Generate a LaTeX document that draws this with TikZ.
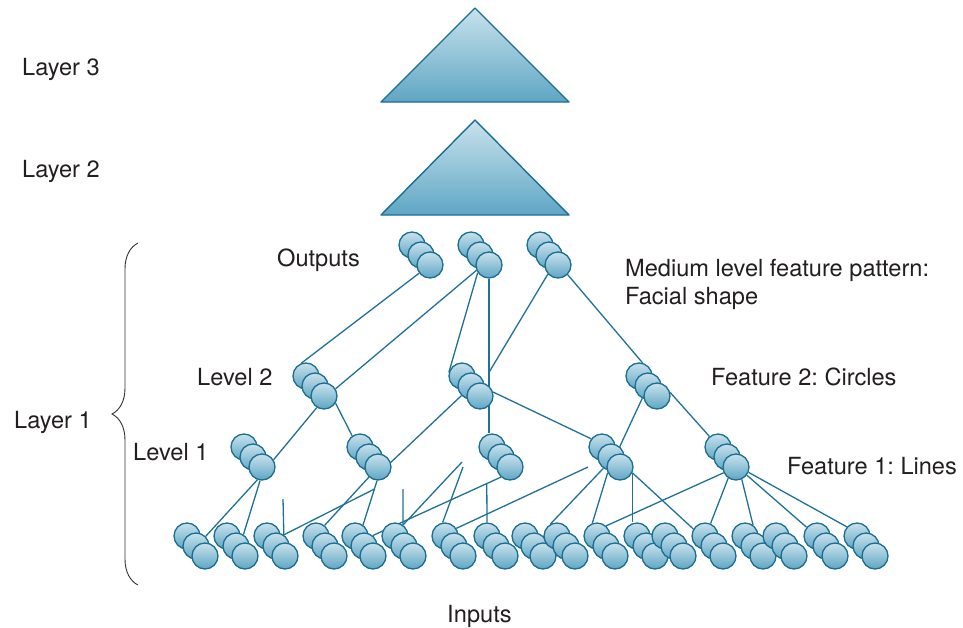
\documentclass[tikz,border=0pt]{standalone}
\usepackage{fontspec}
\setmainfont{TeX Gyre Heros}
\usetikzlibrary{backgrounds,decorations.pathreplacing}
\frenchspacing

\definecolor{celltop}{HTML}{C8E2EC}
\definecolor{cellbot}{HTML}{5FA6C4}
\definecolor{cellline}{HTML}{1B6E93}
\definecolor{linkcol}{HTML}{1F7197}
\definecolor{textcol}{HTML}{231F20}

\tikzset{
  cell/.style={circle, minimum size=26pt, inner sep=0pt, draw=cellline, line width=1.3pt,
    top color=celltop, bottom color=cellbot},
  tri/.style={draw=cellline, line width=1.4pt, line join=round, top color=celltop, bottom color=cellbot},
  link/.style={draw=linkcol, line width=1.3pt},
  lbl/.style={anchor=base west, inner sep=0pt, text=textcol, font=\fontsize{23.6}{28}\selectfont},
}

\begin{document}
\begin{tikzpicture}[x=1pt,y=-1pt]
    \useasboundingbox (0,0) rectangle (963,627);

    % Layers 3 and 2
    \draw[tri] (475,8) -- (569,102) -- (381,102) -- cycle;
    \draw[tri] (475,120) -- (569,215) -- (381,215) -- cycle;

    % Labels
    \node[lbl] (lay3) at (22,75) {Layer 3};
    \node[lbl] (lay2) at (22,177) {Layer 2};
    \node[lbl] (lay1) at (14,428) {Layer 1};
    \node[lbl] (outs) at (277,266) {Outputs};
    \node[lbl] (med1) at (625,276) {Medium level feature pattern:};
    \node[lbl] (med2) at (625,304) {Facial shape};
    \node[lbl] (lev2) at (197,385) {Level 2};
    \node[lbl] (feat2) at (711,385) {Feature 2: Circles};
    \node[lbl] (lev1) at (133,460) {Level 1};
    \node[lbl] (feat1) at (787,474) {Feature 1: Lines};
    \node[lbl] (ins) at (447,622) {Inputs};

    % Brace for layer 1
    \draw[decorate, decoration={brace, amplitude=26pt}, line width=0.9pt, black!80] (138,585) -- (138,243);

    % Outputs, level 2 and level 1 clusters
    \foreach \n/\x/\y in {o1/412/245, o2/471/245, o3/540/245,
        l2a/306/376, l2b/462/376, l2c/639/376,
        l1a/244/447, l1b/360/447, l1c/492/447, l1d/602/447, l1e/718/447} {
      \node[cell] (\n-1) at (\x,\y) {};
      \node[cell] (\n-2) at (\x+9,\y+10) {};
      \node[cell] (\n-3) at (\x+18,\y+20) {};
    }

    % Inputs
    \foreach \x [count=\i] in {187,227,267,316,355,395,445,487,525,557,597,637,665,705,745,776,817,857} {
      \node[cell] (b\i-1) at (\x,536) {};
      \node[cell] (b\i-2) at (\x+9,546) {};
      \node[cell] (b\i-3) at (\x+18,556) {};
    }

    % Loose ends
    \coordinate (f1) at (283,499);
    \coordinate (f2) at (403,489);
    \coordinate (f3) at (462,462);
    \coordinate (f4) at (463,467);
    \coordinate (k2) at (588,467);

    \begin{pgfonlayer}{background}
    % outputs to level 2
    \draw[link] (o1-3.217) -- (l2a-1.110);
    \draw[link] (o2-3.203) -- (l2a-3.32);
    \draw[link] (o2-3.214) -- (l2b-1.165);
    \draw[link] (o2-3.south) -- (o2-3.south |- l1c-1.north);
    \draw[link] (o3-3.222) -- (o2-3.south |- l2b-2.north);
    \draw[link] (o3-3.315) -- (l2c-1.75);
    % level 2 to level 1
    \draw[link] (l2a-3.238) -- (l1a-3.32);
    \draw[link] (l2a-3.328) -- (l1b-1.125);
    \draw[link] (l2b-2.225) -- (l1b-3.20);
    \draw[link] (l2b-3.17) -- (l1d-1.143);
    \draw[link] (l2c-2.245) -- (l1d-2.50);
    \draw[link] (l2c-3.15) -- (l1e-1.129);
    % level 1 to inputs
    \draw[link] (l1a-3.250) -- (b1-2.45);
    \draw[link] (l1a-3.262) -- (b2-2.57);
    \draw[link] (l1b-3.228) -- (b4-1.51);
    \draw[link] (l1b-3.266) -- coordinate[pos=0.19] (k3) (b5-1.54);
    \draw[link] (l1c-3.228) -- coordinate[pos=0.11] (k1) (b5-2.50);
    \draw[link] (k1) -- (b8-1.north);
    \draw[link] (l1d-2.236) -- (b10-1.119);
    \draw[link] (l1d-3.205) -- (b11-1.110);
    \draw[link] (l1d-3.335) -- (l1d-3.335 |- b12-1.north);
    \draw[link] (l1d-3.335) -- (b14-1.149);
    \draw[link] (b7-1.34) -- (k2);
    \draw[link] (l1e-3.205) -- (b11-1.48);
    \draw[link] (l1e-3.235) -- (b14-1.66);
    \draw[link] (l1e-3.295) -- (b15-1.54);
    \draw[link] (l1e-3.323) -- (b17-1.140);
    \draw[link] (l1e-3.337) -- (b18-1.138);
    % loose lines
    \draw[link] (f1) -- (b3-2.55);
    \draw[link] (b3-2.55) -- (k3);
    \draw[link] (f2) -- (b6-1.54);
    \draw[link] (f3) -- (b6-1.54);
    \draw[link] (f4) -- (b7-1.100);
    \end{pgfonlayer}
\end{tikzpicture}
\end{document}
